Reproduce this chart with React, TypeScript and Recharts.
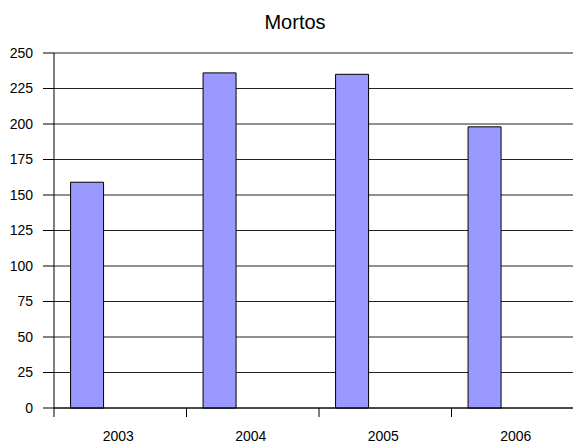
import React from "react";
import { BarChart, Bar, XAxis, YAxis, CartesianGrid } from "recharts";

// Deaths per year
const years = ["2003", "2004", "2005", "2006"];
const mortos = [159, 236, 235, 198];
const yTicks = [0, 25, 50, 75, 100, 125, 150, 175, 200, 225, 250];

const data = years.map((ano, i) => ({ ano, mortos: mortos[i] }));

const FONT = '"Liberation Sans", Arial, sans-serif';
const tickStyle = { fontSize: 14, fill: "#000", fontFamily: FONT };

// Year label plus a small tick mark on the left edge of its slot
function YearTick(props: any) {
  const { x, y, payload, width, visibleTicksCount, index } = props;
  const half =
    payload && payload.offset ? payload.offset : width / visibleTicksCount / 2;
  const isLast = index === visibleTicksCount - 1;
  return (
    <g>
      <line x1={x - half} y1={y} x2={x - half} y2={y + 9} stroke="#000" />
      {isLast && <line x1={x + half} y1={y} x2={x + half} y2={y + 9} stroke="#000" />}
      <text x={x - 2} y={y + 33} textAnchor="middle" {...tickStyle}>
        {payload.value}
      </text>
    </g>
  );
}

export default function App() {
  return (
    <div
      style={{
        position: "fixed",
        left: 0,
        top: 0,
        width: 573,
        height: 444,
        overflow: "hidden",
        background: "#fff",
      }}
    >
      <div
        style={{
          position: "absolute",
          left: 0,
          top: 12,
          width: 590,
          textAlign: "center",
          fontFamily: FONT,
          fontSize: 20,
          lineHeight: "20px",
          color: "#000",
        }}
      >
        Mortos
      </div>
      <BarChart
        width={600}
        height={444}
        data={data}
        margin={{ top: 53, right: 16, bottom: 0, left: 0 }}
        barCategoryGap="12.5%"
        barGap={0}
      >
        <CartesianGrid vertical={false} stroke="#222" strokeOpacity={1} />
        <XAxis
          dataKey="ano"
          tickLine={false}
          axisLine={{ stroke: "#000" }}
          tickSize={0}
          tickMargin={0}
          height={36}
          interval={0}
          tick={<YearTick />}
        />
        <YAxis
          domain={[0, 250]}
          ticks={yTicks}
          interval={0}
          width={54}
          tickSize={11}
          tickMargin={10}
          tickLine={{ stroke: "#000" }}
          axisLine={{ stroke: "#000" }}
          tick={tickStyle}
        />
        <Bar dataKey="mortos" fill="#9999ff" stroke="#000" strokeWidth={1} isAnimationActive={false} />
        {/* two empty series so the bar sits in the first third of its slot */}
        <Bar dataKey="serie2" fill="#993366" isAnimationActive={false} />
        <Bar dataKey="serie3" fill="#ffffcc" isAnimationActive={false} />
      </BarChart>
    </div>
  );
}
